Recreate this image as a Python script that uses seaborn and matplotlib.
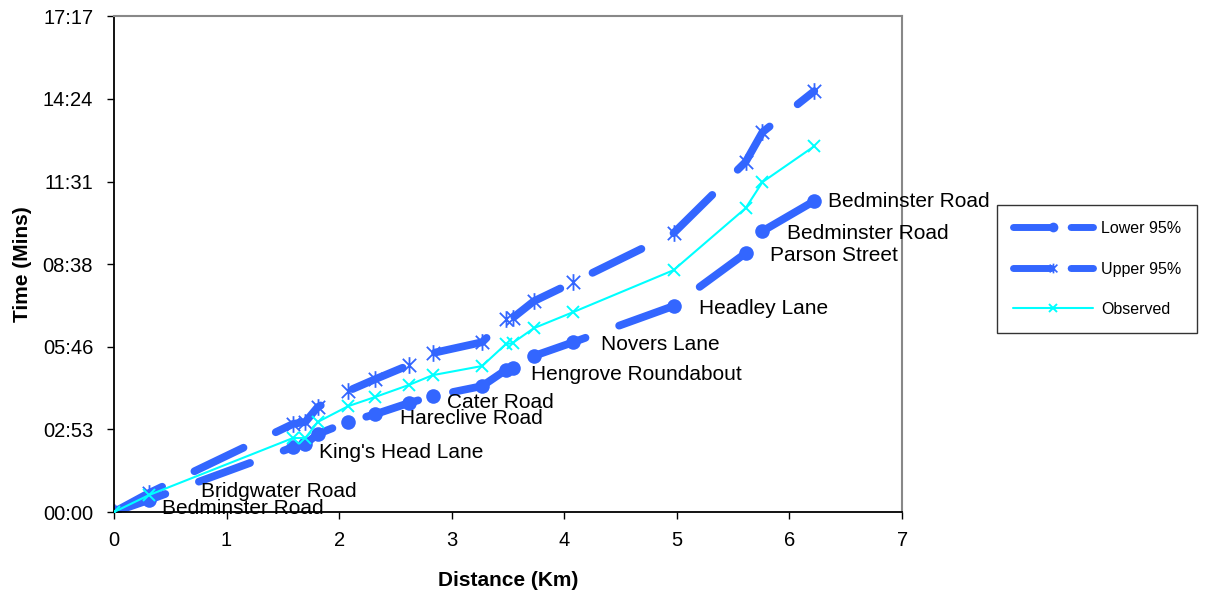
import matplotlib
matplotlib.use("Agg")
import matplotlib.pyplot as plt
from matplotlib.path import Path
from matplotlib.lines import Line2D
import seaborn as sns
import pandas as pd

# ---------------- data ----------------
distance_km = [0.00, 0.31, 1.59, 1.70, 1.81, 2.08, 2.32, 2.62, 2.83,
               3.27, 3.48, 3.54, 3.73, 4.08, 4.97, 5.61, 5.76, 6.22]
observed_min = [0.00, 0.59, 2.58, 2.58, 3.14, 3.69, 4.01, 4.43, 4.77,
                5.09, 5.85, 5.89, 6.41, 6.97, 8.43, 10.59, 11.50, 12.75]
lower_min = [0.00, 0.42, 2.26, 2.37, 2.72, 3.14, 3.41, 3.80, 4.04,
             4.39, 4.95, 5.02, 5.44, 5.92, 7.18, 9.02, 9.79, 10.84]
upper_min = [0.00, 0.66, 3.07, 3.14, 3.66, 4.22, 4.63, 5.12, 5.54,
             5.92, 6.72, 6.76, 7.35, 8.01, 9.72, 12.20, 13.24, 14.67]

stop_labels = ["Bedminster Road", "Bridgwater Road", "King's Head Lane",
               "Hareclive Road", "Cater Road", "Hengrove Roundabout",
               "Novers Lane", "Headley Lane", "Parson Street",
               "Bedminster Road", "Bedminster Road"]
label_point_index = [1, 1, 3, 6, 8, 11, 13, 14, 15, 16, 17]
label_offsets_px = [(13, -8), (52, 9), (14, -8), (25, -4), (14, -6), (18, -6),
                    (28, -2), (25, -2), (24, -2), (25, -2), (14, 0)]

y_tick_labels = ["00:00", "02:53", "05:46", "08:38", "11:31", "14:24", "17:17"]
x_ticks = [0, 1, 2, 3, 4, 5, 6, 7]

series_names = ["Lower 95%", "Upper 95%", "Observed"]

# ---------------- style ----------------
sns.set_theme(style="white")
plt.rcParams["font.family"] = ["Liberation Sans", "DejaVu Sans"]
plt.rcParams["text.color"] = "black"
plt.rcParams["axes.labelcolor"] = "black"
plt.rcParams["xtick.color"] = "black"
plt.rcParams["ytick.color"] = "black"

blue = "#3366FF"
cyan = "#00FFFF"
dash = (7.0, 4.6)
star = Path([(-1, -1), (1, 1), (-1, 1), (1, -1), (0, -1.25), (0, 1.25)],
            [Path.MOVETO, Path.LINETO, Path.MOVETO, Path.LINETO, Path.MOVETO, Path.LINETO])

fig = plt.figure(figsize=(12.06, 6.01), dpi=100)
ax = fig.add_axes([0.0945, 0.148, 0.6535, 0.825])

df_low = pd.DataFrame({"Distance": distance_km, "Time": lower_min})
df_up = pd.DataFrame({"Distance": distance_km, "Time": upper_min})
df_obs = pd.DataFrame({"Distance": distance_km, "Time": observed_min})

sns.lineplot(data=df_low, x="Distance", y="Time", sort=False, estimator=None, ax=ax,
             color=blue, lw=5.6, dashes=dash, dash_capstyle="round",
             marker="o", markersize=10.5, markeredgewidth=0, zorder=2)
sns.lineplot(data=df_up, x="Distance", y="Time", sort=False, estimator=None, ax=ax,
             color=blue, lw=5.6, dashes=dash, dash_capstyle="round",
             marker=star, markersize=12, markeredgewidth=1.3,
             markeredgecolor=blue, zorder=2)
sns.lineplot(data=df_obs, x="Distance", y="Time", sort=False, estimator=None, ax=ax,
             color=cyan, lw=1.5, marker="x", markersize=8, markeredgewidth=1.4,
             markeredgecolor=cyan, zorder=3)

# point labels attached to the lower series
for text, idx, (dx, dy) in zip(stop_labels, label_point_index, label_offsets_px):
    ax.annotate(text, xy=(distance_km[idx], lower_min[idx]), xytext=(dx, dy),
                textcoords="offset pixels", ha="left", va="center",
                fontsize=15, color="black", zorder=5)

# axes
ax.set_xlim(0, 7)
ax.set_ylim(0, 17.28)
ax.set_xticks(x_ticks)
ax.set_xticklabels([str(v) for v in x_ticks], fontsize=14.5, color="black")
ax.set_yticks([2.88 * i for i in range(len(y_tick_labels))])
ax.set_yticklabels(y_tick_labels, fontsize=14.5, color="black")
ax.tick_params(axis="both", which="both", direction="out", length=5, width=1,
               color="black", labelcolor="black", left=True, bottom=True)
ax.tick_params(axis="y", pad=10)
ax.tick_params(axis="x", pad=9)
ax.set_xlabel("Distance (Km)", fontsize=15, fontweight="bold", labelpad=15, color="black")
ax.set_ylabel("Time (Mins)", fontsize=15, fontweight="bold", labelpad=8, color="black")

for side in ["left", "bottom"]:
    ax.spines[side].set_color("black")
    ax.spines[side].set_linewidth(1.3)
for side in ["top", "right"]:
    ax.spines[side].set_color("#888888")
    ax.spines[side].set_linewidth(1.5)
    ax.spines[side].set_visible(True)

# legend
handles = [
    Line2D([0], [0], color=blue, lw=5, dashes=(5.5, 2.8), dash_capstyle="round",
           marker="o", markersize=7, markeredgewidth=0),
    Line2D([0], [0], color=blue, lw=5, dashes=(5.5, 2.8), dash_capstyle="round",
           marker=star, markersize=7, markeredgewidth=1.2, markeredgecolor=blue),
    Line2D([0], [0], color=cyan, lw=1.5, marker="x", markersize=6, markeredgewidth=1.4),
]
leg = fig.legend(handles, series_names, loc="upper left",
                 bbox_to_anchor=(997 / 1206, 1 - 205 / 601), bbox_transform=fig.transFigure,
                 fontsize=11.5, frameon=True, fancybox=False, handlelength=5.0,
                 labelspacing=1.6, borderpad=1.0, handletextpad=0.5, borderaxespad=0)
leg.get_frame().set_edgecolor("black")
leg.get_frame().set_linewidth(1.0)
for t in leg.get_texts():
    t.set_color("black")

fig.savefig("out.png", dpi=100)
